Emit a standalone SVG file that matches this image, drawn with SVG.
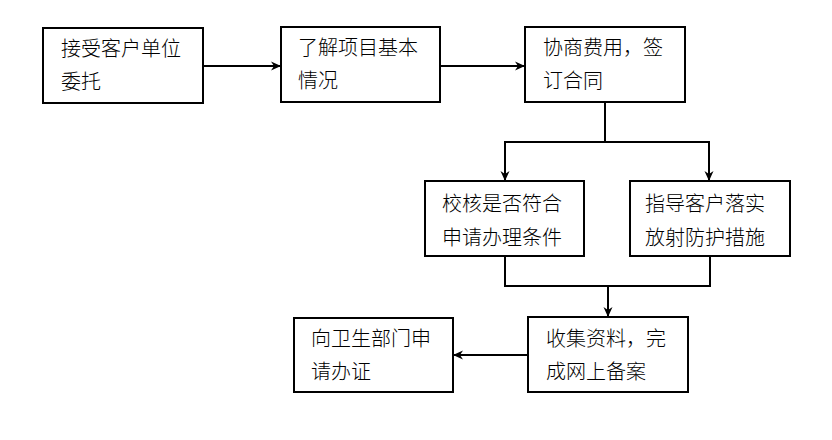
<svg xmlns="http://www.w3.org/2000/svg" width="832" height="440" viewBox="0 0 832 440">
<style>
.box{fill:#fff;stroke:#000;stroke-width:2}
.lbl{font-family:"Noto Sans CJK SC","Noto Sans CJK TC",sans-serif;font-size:20px;font-weight:300;fill:#000}
.con{fill:none;stroke:#000;stroke-width:2}
</style>
<defs>
<marker id="ah" viewBox="0 0 10 10" refX="9" refY="5" markerWidth="10" markerHeight="10" markerUnits="userSpaceOnUse" orient="auto">
<path d="M0,0.5 L10,5 L0,9.5 L3,5 z" fill="#000"/>
</marker>
</defs>
<rect width="832" height="440" fill="#fff"/>
<g id="connectors">
<line class="con" x1="203" y1="66" x2="280" y2="66" marker-end="url(#ah)"/>
<line class="con" x1="440" y1="66" x2="524" y2="66" marker-end="url(#ah)"/>
<polyline class="con" points="605,102 605,142 505,142"/>
<polyline class="con" points="605,142 709,142"/>
<line class="con" x1="505" y1="141" x2="505" y2="180" marker-end="url(#ah)"/>
<line class="con" x1="709" y1="141" x2="709" y2="180" marker-end="url(#ah)"/>
<polyline class="con" points="505,256 505,286 710,286 710,256"/>
<line class="con" x1="608" y1="286" x2="608" y2="316" marker-end="url(#ah)"/>
<line class="con" x1="528" y1="355" x2="454" y2="355" marker-end="url(#ah)"/>
</g>
<g id="n1">
<rect class="box" x="43" y="28" width="160" height="75"/>
<text class="lbl" x="61" y="56">接受客户单位</text>
<text class="lbl" x="61" y="89">委托</text>
</g>
<g id="n2">
<rect class="box" x="281" y="27" width="159" height="75"/>
<text class="lbl" x="298" y="55">了解项目基本</text>
<text class="lbl" x="298" y="88">情况</text>
</g>
<g id="n3">
<rect class="box" x="525" y="27" width="160" height="75"/>
<text class="lbl" x="543" y="55">协商费用，签</text>
<text class="lbl" x="543" y="88">订合同</text>
</g>
<g id="n4">
<rect class="box" x="425" y="181" width="159" height="75"/>
<text class="lbl" x="442" y="211">校核是否符合</text>
<text class="lbl" x="442" y="245">申请办理条件</text>
</g>
<g id="n5">
<rect class="box" x="630" y="181" width="160" height="75"/>
<text class="lbl" x="645" y="211">指导客户落实</text>
<text class="lbl" x="645" y="245">放射防护措施</text>
</g>
<g id="n6">
<rect class="box" x="528" y="317" width="160" height="75"/>
<text class="lbl" x="546" y="346">收集资料，完</text>
<text class="lbl" x="546" y="379">成网上备案</text>
</g>
<g id="n7">
<rect class="box" x="294" y="318" width="159" height="74"/>
<text class="lbl" x="311" y="346">向卫生部门申</text>
<text class="lbl" x="311" y="379">请办证</text>
</g>
</svg>
